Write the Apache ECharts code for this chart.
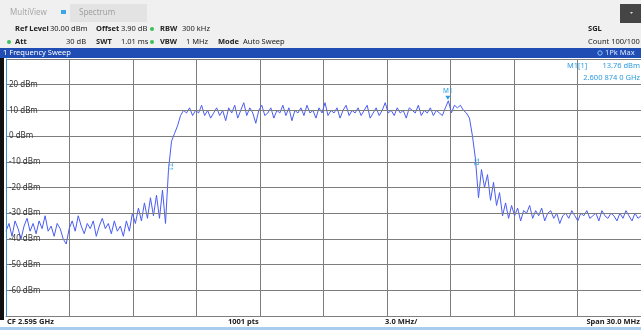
<!DOCTYPE html>
<html>
<head>
<meta charset="utf-8">
<script src="https://cdn.jsdelivr.net/npm/echarts@6/dist/echarts.min.js"></script>
<style>
html,body{margin:0;padding:0;background:#fff;}
#chart{width:641px;height:330px;}
</style>
</head>
<body>
<div id="chart"></div>
<script>
// ---- data ----
const startMHz = 2580;
const spanMHz = 30;
const yTicks = [20, 10, 0, -10, -20, -30, -40, -50, -60];
const levelsNoiseLeft = [
  -37, -34, -39, -33, -36, -40, -35, -32, -37, -34,
  -38, -33, -36, -31, -37, -35, -39, -34, -36, -40,
  -42, -36, -33, -37, -31, -35, -38, -34, -36, -33,
  -39, -35, -32, -36, -34, -38, -33, -37, -35, -39
];
const levelsSkirtLeft = [-33, -37, -30, -34, -28, -33, -26, -32, -24, -31, -23, -32, -21, -34];
const levelsRise = [-13, -2, 1, 4, 8];
const levelsBand = [
  10, 9, 11, 8, 10, 9, 12, 8, 10, 7,
  9, 11, 8, 10, 6, 11, 9, 12, 7, 10,
  13, 8, 11, 9, 5, 10, 12, 8, 9, 11,
  7, 10, 9, 12, 8, 11, 6, 10, 9, 11,
  8, 12, 9, 10, 7, 11, 9, 13, 8, 10,
  9, 11, 7, 10, 12, 8, 10, 9, 11, 8,
  10, 12, 7, 9, 11, 8, 10, 13, 9, 10,
  8, 11, 9, 10, 7, 11, 10, 9, 12, 8,
  10, 9, 11, 8, 10, 9, 8, 11, 13.76, 9,
  12, 11, 12, 10
];
const levelsFall = [9, 7, 0, -9, -24, -13, -20, -15, -25, -18, -27, -22];
const levelsNoiseRight = [
  -31, -26, -32, -27, -31, -28, -33, -29, -30, -27,
  -32, -29, -31, -28, -33, -30, -29, -32, -30, -34,
  -31, -30, -32, -29, -31, -33, -30, -31, -29, -32,
  -31, -30, -33, -29, -31, -32, -30, -31, -33, -30,
  -32, -29, -31, -33, -30, -32, -31
];
const marker = { name: 'M1', freqGHz: 2.6008740, level: 13.76 };
const t1 = { name: 'T1', freqMHz: 2587.75, level: -12 };
const t2 = { name: 'T2', freqMHz: 2602.2, level: -10 };

// ---- build trace ----
const levels = [].concat(levelsNoiseLeft, levelsSkirtLeft, levelsRise, levelsBand, levelsFall, levelsNoiseRight);
const step = spanMHz / (levels.length - 1);
const trace = levels.map((v, i) => [startMHz + i * step, v]);

const FONT = 'Noto Sans';
const chart = echarts.init(document.getElementById('chart'), null, { renderer: 'canvas' });

const txt = (x, y, s, o = {}) => ({
  type: 'text', x, y, silent: true,
  style: Object.assign({ text: s, fontFamily: FONT, fontSize: 7.5, fill: '#222', textVerticalAlign: 'middle' }, o)
});

chart.setOption({
  animation: false,
  backgroundColor: '#ffffff',
  grid: { left: 6, right: 0, top: 59, bottom: 14, containLabel: false },
  xAxis: {
    type: 'value', min: startMHz, max: startMHz + spanMHz, interval: 3,
    axisLine: { show: true, onZero: false, lineStyle: { color: '#8a8a8a', width: 1 } },
    axisTick: { show: false }, axisLabel: { show: false },
    splitLine: { show: true, lineStyle: { color: '#7d7d7d', width: 1 } }
  },
  yAxis: {
    type: 'value', min: -70, max: 30, interval: 10,
    axisLine: { show: true, lineStyle: { color: '#3a8fd8', width: 1 } },
    axisTick: { show: false },
    axisLabel: {
      show: true, inside: true, margin: 3, color: '#333', fontFamily: FONT, fontSize: 8,
      verticalAlign: 'middle', padding: [2, 0, 0, 0],
      formatter: v => yTicks.indexOf(v) >= 0 ? v + ' dBm' : ''
    },
    splitLine: { show: true, lineStyle: { color: '#7d7d7d', width: 1 } },
    z: 5
  },
  series: [{
    type: 'line', data: trace, showSymbol: false, symbol: 'none',
    lineStyle: { color: '#4a5cf2', width: 1 },
    markPoint: {
      silent: true,
      data: [
        { coord: [marker.freqGHz * 1000, marker.level], symbol: 'triangle', symbolSize: [5, 4], symbolRotate: 180, symbolOffset: [0, -3],
          itemStyle: { color: '#2a9be0' },
          label: { show: true, position: 'top', distance: 1, formatter: marker.name, color: '#2a9be0', fontSize: 6.5, fontFamily: FONT } },
        { coord: [t1.freqMHz, t1.level], symbol: 'circle', symbolSize: 1, itemStyle: { color: 'rgba(0,0,0,0)' },
          label: { show: true, position: 'inside', formatter: t1.name, color: '#2a9be0', fontSize: 6.5, rotate: -90, fontFamily: FONT } },
        { coord: [t2.freqMHz, t2.level], symbol: 'circle', symbolSize: 1, itemStyle: { color: 'rgba(0,0,0,0)' },
          label: { show: true, position: 'inside', formatter: t2.name, color: '#2a9be0', fontSize: 6.5, rotate: -90, fontFamily: FONT } }
      ]
    }
  }],
  graphic: [
    // header background
    { type: 'rect', shape: { x: 0, y: 0, width: 641, height: 49 }, style: { fill: '#f0f0f0' }, silent: true },
    { type: 'rect', shape: { x: 70, y: 4, width: 77, height: 18 }, style: { fill: '#e3e3e3' }, silent: true },
    { type: 'rect', shape: { x: 61, y: 10, width: 5, height: 4 }, style: { fill: '#3aa6e6' }, silent: true },
    { type: 'rect', shape: { x: 620, y: 4, width: 21, height: 19 }, style: { fill: '#454545' }, silent: true },
    { type: 'polygon', shape: { points: [[630, 12], [633, 12], [631.5, 14]] }, style: { fill: '#ddd' }, silent: true },
    txt(10, 13, 'MultiView', { fill: '#a8a8a8', fontSize: 8 }),
    txt(79, 13, 'Spectrum', { fill: '#a0a0a0', fontSize: 8 }),
    // settings rows
    txt(15, 29, 'Ref Level', { fontWeight: 'bold' }),
    txt(50, 29, '30.00 dBm'),
    txt(96, 29, 'Offset', { fontWeight: 'bold' }),
    txt(121, 29, '3.90 dB'),
    { type: 'circle', shape: { cx: 152, cy: 29, r: 2 }, style: { fill: '#3cbf5a' }, silent: true },
    txt(160, 29, 'RBW', { fontWeight: 'bold' }),
    txt(182, 29, '300 kHz'),
    txt(588, 29, 'SGL', { fontWeight: 'bold' }),
    { type: 'circle', shape: { cx: 9, cy: 42, r: 2 }, style: { fill: '#3cbf5a' }, silent: true },
    txt(15, 42, 'Att', { fontWeight: 'bold' }),
    txt(66, 42, '30 dB'),
    txt(96, 42, 'SWT', { fontWeight: 'bold' }),
    txt(121, 42, '1.01 ms'),
    { type: 'circle', shape: { cx: 152, cy: 42, r: 2 }, style: { fill: '#3cbf5a' }, silent: true },
    txt(160, 42, 'VBW', { fontWeight: 'bold' }),
    txt(186, 42, '1 MHz'),
    txt(218, 42, 'Mode', { fontWeight: 'bold' }),
    txt(243, 42, 'Auto Sweep'),
    txt(588, 42, 'Count 100/100'),
    // blue title bar
    { type: 'rect', shape: { x: 0, y: 48, width: 641, height: 10 }, style: { fill: '#1f4db4' }, silent: true },
    txt(3, 53, '1 Frequency Sweep', { fill: '#ffffff', fontSize: 7.5 }),
    { type: 'circle', shape: { cx: 600, cy: 53, r: 2.2 }, style: { fill: '#1f4db4', stroke: '#8fc4ff', lineWidth: 1 }, silent: true },
    txt(605, 53, '1Pk Max', { fill: '#d8e6ff', fontSize: 7.5 }),
    // left frame
    { type: 'rect', shape: { x: 0, y: 58, width: 4, height: 262 }, style: { fill: '#111' }, silent: true },
    // marker readout
    txt(567, 66, 'M1[1]', { fill: '#2a9be0' }),
    txt(640, 66, '13.76 dBm', { fill: '#2a9be0', textAlign: 'right' }),
    txt(640, 78, '2.600 874 0 GHz', { fill: '#2a9be0', textAlign: 'right' }),
    // bottom bar
    { type: 'rect', shape: { x: 0, y: 327, width: 641, height: 3 }, style: { fill: '#a9cdee' }, silent: true },
    txt(7, 322, 'CF 2.595 GHz', { fontWeight: 'bold' }),
    txt(228, 322, '1001 pts', { fontWeight: 'bold' }),
    txt(385, 322, '3.0 MHz/', { fontWeight: 'bold' }),
    txt(640, 322, 'Span 30.0 MHz', { fontWeight: 'bold', textAlign: 'right' })
  ]
});
</script>
</body>
</html>
